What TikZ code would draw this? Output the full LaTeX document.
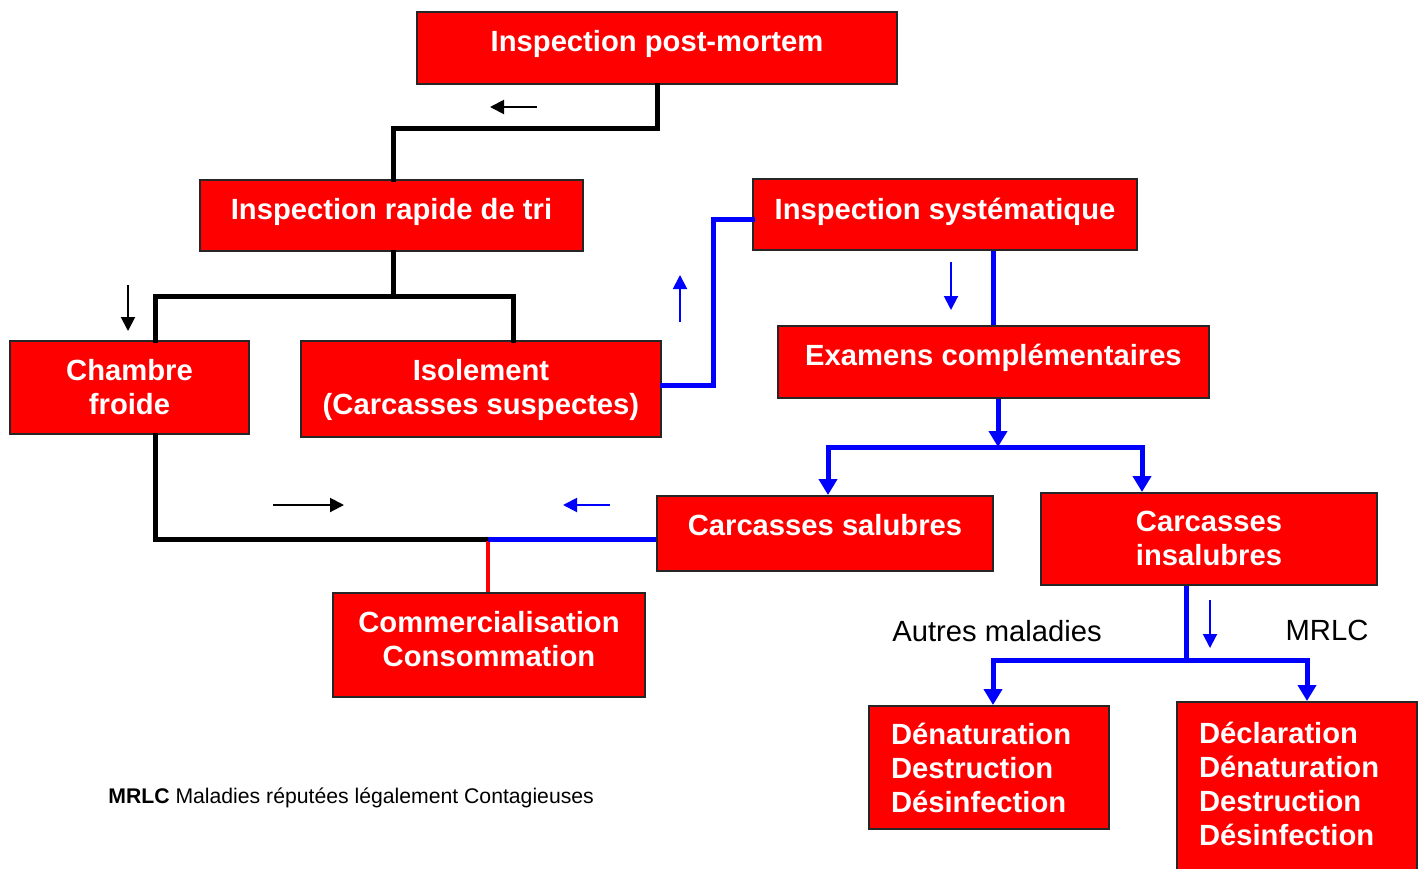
\documentclass[tikz,border=0pt]{standalone}
\usepackage{fontspec}
\setmainfont{Liberation Sans}
\usetikzlibrary{arrows.meta}
\begin{document}
\begin{tikzpicture}[x=0.5pt,y=-0.5pt,
  box/.style={draw=black!85, line width=1pt, fill=red, inner sep=0pt},
  txt/.style={text=white, inner sep=0pt, font=\bfseries\fontsize{14.6}{17}\selectfont, align=center},
  ltxt/.style={txt, align=left, text width=196*0.5pt},
  sz/.style 2 args={minimum width=#1*0.5pt, minimum height=#2*0.5pt},
  blk/.style={draw=black, line width=2.5pt, line cap=rect, line join=miter},
  bl/.style={draw=blue, line width=2.5pt, line cap=rect, line join=miter},
  rd/.style={draw=red, line width=2pt},
  big/.style={-{Triangle[width=9pt,length=8pt]}},
  bigb/.style={{Triangle[width=9pt,length=8pt]}-{Triangle[width=9pt,length=8pt]}},
  small/.style={line width=1pt, -{Triangle[width=7pt,length=7pt]}},
  lbl/.style={font=\fontsize{14.6}{17}\selectfont, inner sep=0pt}
]
\useasboundingbox (0,0) rectangle (1422,868);

% boxes
\node[box, sz={480}{72}, label={[txt, yshift=2pt]center:Inspection post-mortem}] (pm) at (657,48) {};
\node[box, sz={383}{71}, label={[txt, yshift=2pt]center:Inspection rapide de tri}] (tri) at (391.5,215.5) {};
\node[box, sz={384}{71}, label={[txt, yshift=1.5pt]center:Inspection systématique}] (sys) at (945,214.5) {};
\node[box, sz={239}{93}, label={[txt]center:Chambre\\froide}] (ch) at (129.5,387.5) {};
\node[box, sz={360}{96}, label={[txt, yshift=-0.5pt]center:Isolement\\(Carcasses suspectes)}] (iso) at (481,389) {};
\node[box, sz={431}{72}, label={[txt, yshift=2pt]center:Examens complémentaires}] (exa) at (993.5,362) {};
\node[box, sz={336}{75}, label={[txt, yshift=4pt]center:Carcasses salubres}] (sal) at (825,533.5) {};
\node[box, sz={336}{92}, label={[txt, yshift=0.5pt]center:Carcasses\\insalubres}] (ins) at (1209,539) {};
\node[box, sz={312}{104}, label={[txt, yshift=3pt]center:Commercialisation\\Consommation}] (com) at (489,645) {};
\node[box, sz={240}{123}, label={[ltxt]center:Dénaturation\\Destruction\\Désinfection}] (den) at (989,767.5) {};
\node[box, sz={240}{172}, label={[ltxt, yshift=2.25pt]center:Déclaration\\Dénaturation\\Destruction\\Désinfection}] (dec) at (1297,788) {};

% black connectors
\draw[blk] (pm.south) -- (657,128) -| (tri.north -| 393,0);
\draw[blk] (tri.south -| 393,0) -- (393,296);
\draw[blk] (ch.north -| 155,0) -- (155,296) -- (513,296) -- (iso.north -| 513,0);
\draw[blk] (ch.south -| 155,0) -- (155,539) -- (488,539);
\draw[rd] (com.north -| 488,0) -- (488,541);
\draw[bl, line cap=butt] (488,539) -- (sal.west |- 0,539);

% blue connectors
\draw[bl] (iso.east |- 0,385) -- (713,385) -- (713,219) -- (sys.west |- 0,219);
\draw[bl, line cap=butt] (sys.south -| 993,0) -- (exa.north -| 993,0);
\draw[bl, big, line cap=butt] (exa.south -| 998,0) -- (998,447);
\draw[bl, bigb, line cap=butt] (sal.north -| 828,0) -- (828,447) -- (1142,447) -- (ins.north -| 1142,0);
\draw[bl, line cap=butt] (ins.south -| 1186,0) -- (1186,660);
\draw[bl, bigb, line cap=butt] (den.north -| 993,0) -- (993,660) -- (1307,660) -- (dec.north -| 1307,0);

% small direction arrows
\draw[small, black] (537,107) -- (490,107);
\draw[small, black] (128,285) -- (128,331);
\draw[small, blue] (680,322) -- (680,275);
\draw[small, blue] (951,262) -- (951,310);
\draw[small, black] (273,505) -- (344,505);
\draw[small, blue] (610,505) -- (563,505);
\draw[small, blue] (1210,600) -- (1210,648);

% labels
\node[lbl] (am) at (997,631) {Autres maladies};
\node[lbl] (mr) at (1327,630) {MRLC};
\node[lbl, anchor=west, font=\fontsize{10.6}{12}\selectfont] (fn) at (108,798) {\textbf{MRLC} Maladies réputées légalement Contagieuses};
\end{tikzpicture}
\end{document}
